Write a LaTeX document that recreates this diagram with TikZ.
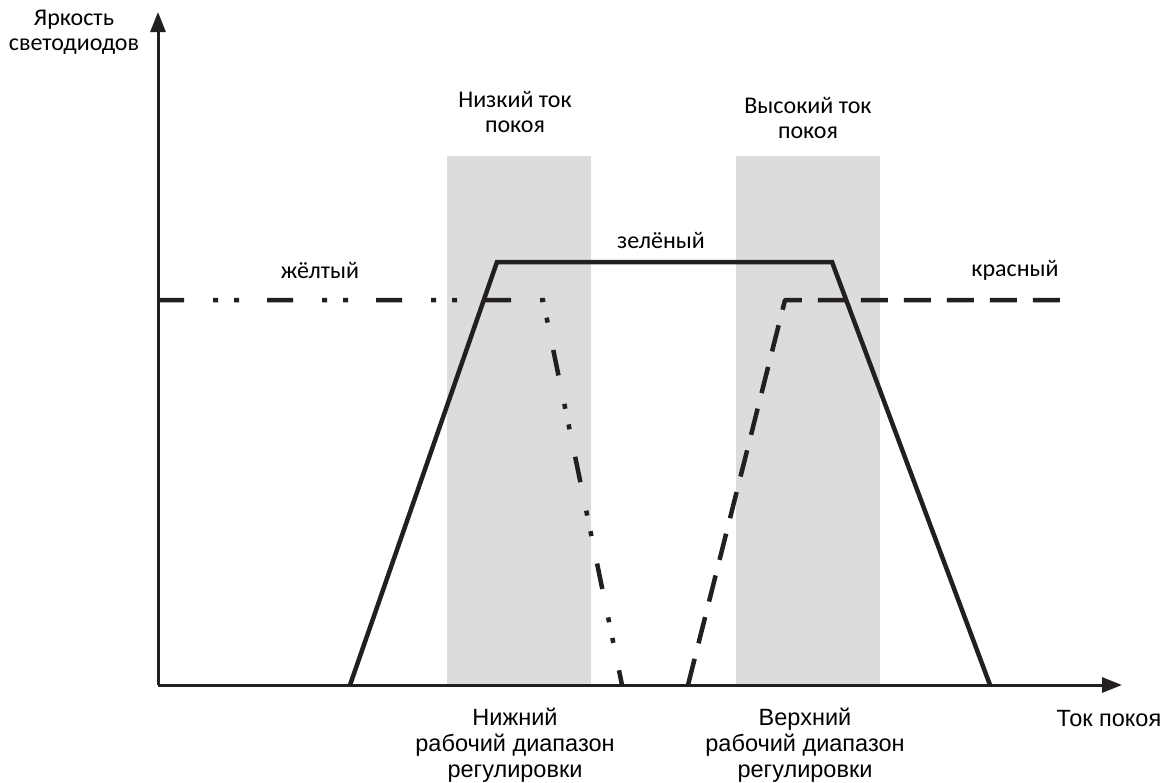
\documentclass[tikz,border=0pt]{standalone}
\usepackage{fontspec}
\setmainfont{Carlito}
\newfontfamily\arialfont{Liberation Sans}
\usetikzlibrary{arrows.meta}
\definecolor{inkline}{HTML}{231F20}
\definecolor{zonegray}{HTML}{DCDCDC}

\begin{document}
\begin{tikzpicture}[x=1pt,y=-1pt]
\useasboundingbox (0,0) rectangle (1169,782);
\tikzstyle{zone}=[fill=zonegray,draw=none]
\tikzstyle{axis}=[line width=3pt,color=inkline,-{Triangle[length=20pt,width=15pt]}]
\tikzstyle{greenline}=[line width=4.5pt,color=inkline,line join=miter]
\tikzstyle{yellowline}=[line width=4.5pt,color=inkline,dash pattern=on 26pt off 29pt on 5pt off 16pt on 5pt off 28pt]
\tikzstyle{redline}=[line width=4.5pt,color=inkline,line join=round,dash pattern=on 27pt off 16pt]
\tikzstyle{lbl}=[font=\fontsize{24}{25}\selectfont,align=center,inner sep=0pt]
\tikzstyle{alab}=[font=\arialfont\fontsize{23.5}{26}\selectfont,align=center,inner sep=0pt]
% shaded zones
\fill[zone] (447,156) rectangle (591,685);
\fill[zone] (736,156) rectangle (880,685);
% curve points
\coordinate (O) at (158,685);
\coordinate (Ytop) at (158,12);
\coordinate (Xend) at (1122,685);
\coordinate (G1) at (350,685);
\coordinate (G2) at (497,262);
\coordinate (G3) at (832,262);
\coordinate (G4) at (990,685);
\coordinate (Y1) at (158,300);
\coordinate (Y2) at (543,300);
\coordinate (Y3) at (622,685);
\coordinate (R1) at (688,685);
\coordinate (R2) at (785,300);
\coordinate (R3) at (1068,300);
\draw[greenline] (G1) -- (G2) -- (G3) -- (G4);
\draw[yellowline] (Y1) -- (Y2) -- (Y3);
\draw[redline] (R1) -- (R2) -- (R3);
%\draw[redline] (R3) -- (R2) -- (R1);
\draw[axis] (O) -- (Ytop);
\draw[axis] (O) -- (Xend);
% labels
\node[lbl] (ylab) at (74,32) {Яркость\\светодиодов};
\node[lbl] (low) at (515,112) {Низкий ток\\покоя};
\node[lbl] (high) at (808,118) {Высокий ток\\покоя};
\node[lbl] (g) at (661,240) {зелёный};
\node[lbl] (y) at (320,270) {жёлтый};
\node[lbl] (r) at (1015,270) {красный};
\node[alab] (xlab) at (1109,719) {Ток покоя};
\node[alab] (lowrange) at (515,745) {Нижний\\рабочий диапазон\\регулировки};
\node[alab] (highrange) at (805,745) {Верхний\\рабочий диапазон\\регулировки};
\end{tikzpicture}
\end{document}
